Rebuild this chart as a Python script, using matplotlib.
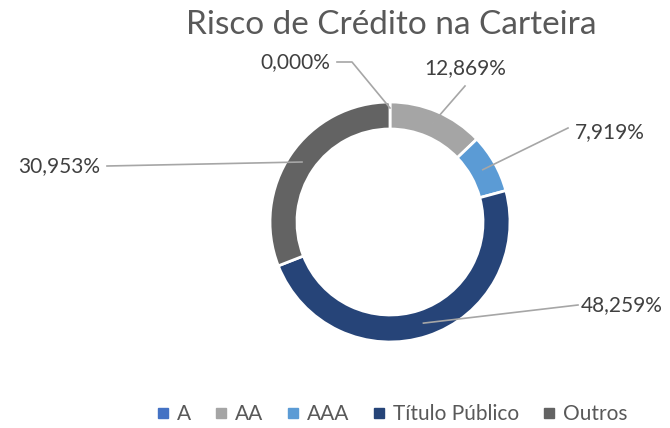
import matplotlib.pyplot as plt
from matplotlib.lines import Line2D
import numpy as np

categories = ["A", "AA", "AAA", "Título Público", "Outros"]
values = [0.000, 12.869, 7.919, 48.259, 30.953]
labels = ["0,000%", "12,869%", "7,919%", "48,259%", "30,953%"]
colors = ["#4472C4", "#A5A5A5", "#5B9BD5", "#264478", "#636363"]

plt.rcParams['font.family'] = ['Lato', 'DejaVu Sans']

W, H = 670, 428
fig = plt.figure(figsize=(W / 100, H / 100), dpi=100)
ax = fig.add_axes([0, 0, 1, 1])

cx, cy, r, ring = 390, H - 222, 120, 27
wedges, _ = ax.pie(values, colors=colors, startangle=90, counterclock=False,
                   center=(cx, cy), radius=r, frame=True,
                   wedgeprops=dict(width=ring, edgecolor='white', linewidth=2))
ax.set_xlim(0, W)
ax.set_ylim(0, H)
ax.axis('off')

# label positions (px from top-left) and where the leader line starts
label_pos = [(295, 62), (465, 68), (610, 132), (622, 305), (59, 166)]
line_start = [(337, 62), (465, 86), (568, 128), (578, 305), (107, 166)]

for w, lab, (lx, ly), (sx, sy) in zip(wedges, labels, label_pos, line_start):
    mid = np.deg2rad((w.theta1 + w.theta2) / 2)
    rr = r - ring / 2
    if w.theta2 - w.theta1 < 1:
        rr = r - 6
    px, py = cx + rr * np.cos(mid), cy + rr * np.sin(mid)
    if lab == "0,000%":
        ax.plot([sx, 352, px], [H - sy, H - sy, py], color='#A6A6A6', lw=1.2)
    else:
        ax.plot([sx, px], [H - sy, py], color='#A6A6A6', lw=1.2)
    ax.text(lx, H - ly, lab, ha='center', va='center', fontsize=15, color='#404040')

fig.text(391 / W, 1 - 25 / H, "Risco de Crédito na Carteira", ha='center', va='center',
         fontsize=24, color='#595959')

handles = [Line2D([], [], marker='s', linestyle='none', markersize=6.5,
                  markerfacecolor=c, markeredgecolor=c) for c in colors]
fig.legend(handles, categories, loc='center', bbox_to_anchor=(392 / W, 1 - 414 / H),
           ncol=5, frameon=False, fontsize=15, labelcolor='#595959',
           handlelength=0.6, handletextpad=0.4, columnspacing=1.1)

fig.savefig("out.png", dpi=100)
